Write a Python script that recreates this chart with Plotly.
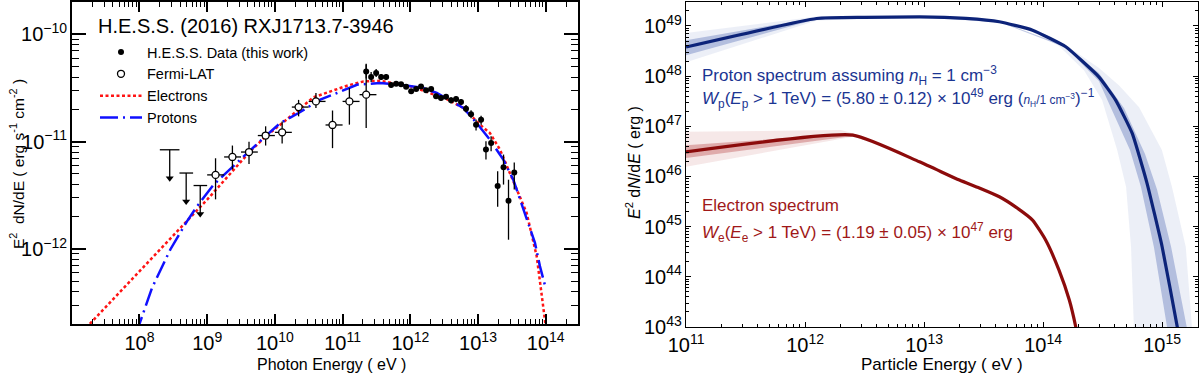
import numpy as np
import plotly.graph_objects as go

# ---------------------------------------------------------------------------
# left panel : gamma-ray SED
# ---------------------------------------------------------------------------
hess_energy = [2.23e11, 2.64e11, 3.13e11, 3.71e11, 4.40e11, 5.21e11, 6.18e11, 7.31e11,
               8.67e11, 1.03e12, 1.22e12, 1.44e12, 1.71e12, 2.03e12, 2.40e12, 2.84e12,
               3.37e12, 4.00e12, 4.74e12, 5.61e12, 6.65e12, 7.89e12, 9.35e12, 1.11e13,
               1.31e13, 1.56e13, 1.95e13, 2.38e13, 2.82e13, 3.43e13]
hess_flux = [4.51e-11, 4.00e-11, 4.36e-11, 4.00e-11, 4.00e-11, 3.37e-11, 3.46e-11, 3.43e-11,
             3.25e-11, 2.95e-11, 3.09e-11, 3.27e-11, 3.01e-11, 3.09e-11, 2.65e-11, 2.55e-11,
             2.62e-11, 2.43e-11, 2.49e-11, 2.34e-11, 2.03e-11, 1.80e-11, 1.44e-11, 1.60e-11,
             8.43e-12, 9.72e-12, 3.86e-12, 5.77e-12, 2.82e-12, 5.15e-12]
hess_err_hi = [7.3e-12, 4.5e-12, 3.9e-12, 2.6e-12, 2.6e-12, 1.9e-12, 1.5e-12, 1.5e-12,
               1.4e-12, 1.3e-12, 1.3e-12, 1.4e-12, 1.3e-12, 1.3e-12, 1.4e-12, 1.4e-12,
               1.4e-12, 1.6e-12, 1.6e-12, 1.5e-12, 1.6e-12, 1.6e-12, 1.7e-12, 1.4e-12,
               1.64e-12, 1.48e-12, 1.44e-12, 1.81e-12, 1.60e-12, 1.23e-12]
hess_err_lo = [6.3e-12, 4.1e-12, 3.6e-12, 2.5e-12, 2.5e-12, 1.8e-12, 1.5e-12, 1.5e-12,
               1.4e-12, 1.3e-12, 1.3e-12, 1.4e-12, 1.3e-12, 1.3e-12, 1.4e-12, 1.4e-12,
               1.4e-12, 1.6e-12, 1.6e-12, 1.5e-12, 1.5e-12, 1.5e-12, 1.7e-12, 1.6e-12,
               1.63e-12, 1.60e-12, 1.39e-12, 1.79e-12, 1.60e-12, 1.57e-12]

fermi_energy = [1.33e9, 2.36e9, 4.15e9, 7.3e9, 1.28e10, 2.24e10, 4.04e10, 7.1e10, 1.26e11, 2.23e11]
fermi_e_min = [1.0e9, 1.78e9, 3.16e9, 5.6e9, 1.0e10, 1.78e10, 3.16e10, 5.6e10, 1.0e11, 1.78e11]
fermi_e_max = [1.78e9, 3.16e9, 5.6e9, 1.0e10, 1.78e10, 3.16e10, 5.6e10, 1.0e11, 1.78e11, 3.16e11]
fermi_flux = [4.9e-12, 7.2e-12, 8.0e-12, 1.14e-11, 1.22e-11, 2.10e-11, 2.37e-11, 1.43e-11, 2.37e-11, 2.74e-11]
fermi_err_hi = [2.1e-12, 2.0e-12, 2.0e-12, 2.5e-12, 3.2e-12, 3.5e-12, 4.7e-12, 5.2e-12, 7.9e-12, 2.58e-11]
fermi_err_lo = [2.0e-12, 1.7e-12, 1.8e-12, 2.2e-12, 2.6e-12, 3.8e-12, 3.1e-12, 5.6e-12, 9.3e-12, 1.40e-11]

# Fermi-LAT upper limits
ul_energy = [2.8e8, 4.9e8, 7.9e8]
ul_e_min = [2.0e8, 3.9e8, 6.3e8]
ul_e_max = [3.9e8, 6.2e8, 1.0e9]
ul_flux = [8.4e-12, 5.1e-12, 3.9e-12]

# leptonic (IC) model
electron_sed_energy = [1.26e7, 1.89e7, 1.0e8, 1.0e9, 4.15e9, 7.21e9, 1.29e10, 3.72e10, 1.16e11,
                       2.03e11, 3.59e11, 1.11e12, 3.45e12, 6.07e12, 1.07e13, 1.50e13, 2.11e13,
                       3.32e13, 5.22e13, 7.35e13, 9.73e13, 1.05e14]
electron_sed_flux = [1.55e-13, 2.03e-13, 6.18e-13, 2.88e-12, 7.91e-12, 1.11e-11, 1.49e-11, 2.59e-11,
                     3.32e-11, 3.64e-11, 3.69e-11, 3.23e-11, 2.49e-11, 2.06e-11, 1.44e-11, 1.20e-11,
                     8.43e-12, 4.34e-12, 2.17e-12, 8.57e-13, 2.03e-13, 1.50e-13]

# hadronic (pi0) model
proton_sed_energy = [9.3e7, 1.0e8, 1.54e8, 2.86e8, 5.06e8, 7.10e8, 1.25e9, 2.20e9, 3.09e9, 7.21e9,
                     1.20e10, 2.24e10, 4.68e10, 8.24e10, 1.63e11, 3.59e11, 7.08e11, 1.56e12,
                     2.46e12, 6.07e12, 9.57e12, 1.50e13, 2.36e13, 3.31e13, 5.52e13, 6.93e13,
                     8.20e13, 9.73e13, 1.0e14]
proton_sed_flux = [1.6e-13, 2.0e-13, 4.36e-13, 9.89e-13, 1.82e-12, 2.50e-12, 3.98e-12, 5.50e-12,
                   6.81e-12, 1.12e-11, 1.49e-11, 1.85e-11, 2.46e-11, 2.84e-11, 3.39e-11, 3.52e-11,
                   3.39e-11, 3.16e-11, 2.84e-11, 2.06e-11, 1.49e-11, 1.04e-11, 6.81e-12, 4.44e-12,
                   1.75e-12, 1.14e-12, 6.92e-13, 4.51e-13, 4.3e-13]

# ---------------------------------------------------------------------------
# right panel : particle spectra
# ---------------------------------------------------------------------------
proton_energy = [1.0e11, 1.25e12, 3.16e12, 9.14e12, 2.24e13, 4.29e13, 8.15e13, 1.55e14, 2.94e14,
                 4.07e14, 5.61e14, 7.46e14, 1.0e15, 1.34e15, 1.45e15]
proton_e2n = [3.8e48, 1.41e49, 1.48e49, 1.52e49, 1.41e49, 1.21e49, 8.24e48, 3.84e48, 9.68e47,
              3.33e47, 7.23e46, 7.40e45, 3.98e44, 1.01e43, 3.2e42]

# spread of the sampled proton spectra (outer / inner envelope)
proton_band_hi_e = [1.0e11, 1.25e12, 9.1e12, 4.3e13, 9.3e13, 1.55e14, 2.95e14, 4.35e14, 6.4e14,
                    9.95e14, 1.21e15, 1.58e15, 1.78e15, 1.93e15]
proton_band_hi_n = [7.2e48, 1.55e49, 1.57e49, 1.26e49, 7.8e48, 4.15e48, 1.45e48, 6.5e47, 2.4e47,
                    3.36e46, 6.15e45, 3.93e44, 1.0e43, 2.2e42]
proton_band_lo_e = [1.0e11, 1.25e12, 9.1e12, 4.3e13, 8.15e13, 1.36e14, 2.21e14, 3.13e14, 4.19e14,
                    4.98e14, 5.48e14, 5.81e14, 5.92e14]
proton_band_lo_n = [1.90e48, 1.28e49, 1.47e49, 1.17e49, 7.7e48, 4.0e48, 1.3e48, 3.33e47, 3.36e46,
                    6.15e45, 3.93e44, 1.0e43, 2.2e42]
proton_core_hi_e = [1.0e11, 1.25e12, 9.1e12, 4.3e13, 1.55e14, 2.94e14, 4.79e14, 7.18e14,
                    9.06e14, 1.19e15, 1.61e15, 1.74e15]
proton_core_hi_n = [5.2e48, 1.46e49, 1.54e49, 1.23e49, 4.0e48, 1.15e48, 2.3e47, 2.8e46,
                    5.5e45, 3.93e44, 1.0e43, 2.2e42]
proton_core_lo_e = [1.0e11, 1.25e12, 9.1e12, 4.3e13, 1.55e14, 2.94e14, 3.51e14, 5.37e14,
                    6.64e14, 8.53e14, 1.10e15, 1.19e15]
proton_core_lo_n = [2.62e48, 1.36e49, 1.50e49, 1.19e49, 3.7e48, 8.0e47, 3.33e47, 3.36e46,
                    6.15e45, 3.93e44, 1.0e43, 2.2e42]

electron_energy = [1.0e11, 2.52e12, 9.14e12, 1.98e13, 2.91e13, 4.29e13, 5.9e13, 8.15e13, 1.05e14,
                   1.36e14, 1.66e14, 1.88e14, 1.97e14]
electron_e2n = [3.10e46, 6.68e46, 1.96e46, 8.47e45, 5.9e45, 3.94e45, 2.45e45, 1.35e45, 5.41e44,
                1.36e44, 3.45e43, 1.01e43, 5.5e42]

electron_band_hi_e = [1.0e11, 2.0e12, 2.52e12, 3.16e12]
electron_band_hi_n = [7.8e46, 8.4e46, 7.3e46, 5.5e46]
electron_band_lo_e = [1.0e11, 1.0e12, 2.52e12, 3.16e12]
electron_band_lo_n = [1.56e46, 4.2e46, 6.2e46, 5.3e46]
electron_core_hi_e = [1.0e11, 2.52e12, 3.16e12]
electron_core_hi_n = [4.2e46, 7.2e46, 5.5e46]
electron_core_lo_e = [1.0e11, 2.52e12, 3.16e12]
electron_core_lo_n = [2.33e46, 6.4e46, 5.3e46]

FONT = "Liberation Sans"
NAVY = "#0c2379"
NAVY_TXT = "#1b3592"
DARKRED = "#8c0b0b"
RED_TXT = "#a01818"


def band(e_hi, n_hi, e_lo, n_lo, color, axes):
    # closed polygon: upper edge out, lower edge back
    return go.Scatter(x=list(e_hi) + list(e_lo)[::-1], y=list(n_hi) + list(n_lo)[::-1],
                      mode="lines", fill="toself", fillcolor=color, line=dict(width=0),
                      hoverinfo="skip", showlegend=False, xaxis=axes[0], yaxis=axes[1])


fig = go.Figure()

# ---- left panel traces
fig.add_trace(go.Scatter(
    x=electron_sed_energy, y=electron_sed_flux, mode="lines", name="Electrons", legendrank=3,
    line=dict(color="#ff1414", width=2.5, dash="3px,2.5px")))
fig.add_trace(go.Scatter(
    x=proton_sed_energy, y=proton_sed_flux, mode="lines", name="Protons", legendrank=4,
    line=dict(color="#1010ff", width=2.5, dash="18px,5px,2px,5px")))

fig.add_trace(go.Scatter(
    x=fermi_energy, y=fermi_flux, mode="markers", name="Fermi-LAT", legendrank=2,
    marker=dict(symbol="circle", size=7, color="white", line=dict(color="black", width=1.3)),
    error_x=dict(type="data", symmetric=False,
                 array=np.subtract(fermi_e_max, fermi_energy),
                 arrayminus=np.subtract(fermi_energy, fermi_e_min),
                 color="black", thickness=1.3, width=0),
    error_y=dict(type="data", symmetric=False, array=fermi_err_hi, arrayminus=fermi_err_lo,
                 color="black", thickness=1.3, width=0)))

# upper limits: bin bar + shaft + arrow head
drop = 10 ** -0.265
ul_flux = np.array(ul_flux)
fig.add_trace(go.Scatter(
    x=ul_energy, y=ul_flux, mode="markers", marker=dict(size=1, color="rgba(0,0,0,0)"),
    showlegend=False, hoverinfo="skip",
    error_x=dict(type="data", symmetric=False,
                 array=np.subtract(ul_e_max, ul_energy),
                 arrayminus=np.subtract(ul_energy, ul_e_min),
                 color="black", thickness=1.3, width=0),
    error_y=dict(type="data", symmetric=False, array=[0] * len(ul_energy),
                 arrayminus=ul_flux * (1 - drop), color="black", thickness=1.3, width=0)))
fig.add_trace(go.Scatter(
    x=ul_energy, y=ul_flux * drop, mode="markers", showlegend=False, hoverinfo="skip",
    marker=dict(symbol="triangle-down", size=7, color="black")))

fig.add_trace(go.Scatter(
    x=hess_energy, y=hess_flux, mode="markers", name="H.E.S.S. Data (this work)", legendrank=1,
    marker=dict(symbol="circle", size=6, color="black"),
    error_y=dict(type="data", symmetric=False, array=hess_err_hi, arrayminus=hess_err_lo,
                 color="black", thickness=1.3, width=0)))

# ---- right panel traces
ax2 = ("x2", "y2")
fig.add_trace(band(proton_band_hi_e, proton_band_hi_n, proton_band_lo_e, proton_band_lo_n,
                   "rgba(45,75,165,0.09)", ax2))
fig.add_trace(band(proton_core_hi_e, proton_core_hi_n, proton_core_lo_e, proton_core_lo_n,
                   "rgba(45,75,165,0.30)", ax2))
fig.add_trace(band(electron_band_hi_e, electron_band_hi_n, electron_band_lo_e, electron_band_lo_n,
                   "rgba(170,30,30,0.10)", ax2))
fig.add_trace(band(electron_core_hi_e, electron_core_hi_n, electron_core_lo_e, electron_core_lo_n,
                   "rgba(170,30,30,0.30)", ax2))
fig.add_trace(go.Scatter(x=proton_energy, y=proton_e2n, mode="lines", showlegend=False,
                         line=dict(color=NAVY, width=3.2, shape="spline", smoothing=0.4),
                         xaxis="x2", yaxis="y2"))
fig.add_trace(go.Scatter(x=electron_energy, y=electron_e2n, mode="lines", showlegend=False,
                         line=dict(color=DARKRED, width=3.2, shape="spline", smoothing=0.5),
                         xaxis="x2", yaxis="y2"))


def log_axis(rng, domain, anchor, ticklen, minorlen, width):
    return dict(type="log", range=rng, domain=domain, anchor=anchor, dtick=1,
                exponentformat="power", showgrid=False, zeroline=False, automargin=False,
                showline=True, linecolor="black", linewidth=width, mirror="ticks",
                ticks="inside", ticklen=ticklen, tickwidth=width, tickcolor="black",
                minor=dict(ticks="inside", ticklen=minorlen, tickwidth=1, tickcolor="black",
                           showgrid=False),
                tickfont=dict(family=FONT, size=16, color="black"))


xa = log_axis([7.004, 14.477], [0.06, 0.4817], "y", 10, 5, 1.5)
ya = log_axis([np.log10(2e-13), np.log10(2e-10)], [0.1314, 0.9946], "x", 14, 7, 1.5)
xb = log_axis([11, 15.301], [0.5717, 0.9983], "y2", 5, 3, 1.1)
yb = log_axis([43, 49.477], [0.1233, 0.9946], "x2", 5, 3, 1.1)
xa["ticklabelstandoff"] = 1
xb["ticklabelstandoff"] = 1

ann = []


def text(s, x, y, size=16, color="black", angle=0, anchor="center"):
    ann.append(dict(text=s, x=x / 1200, y=1 - y / 373, xref="paper", yref="paper",
                    xanchor=anchor, yanchor="middle", showarrow=False, textangle=angle,
                    font=dict(family=FONT, size=size, color=color)))


text("H.E.S.S. (2016) RXJ1713.7-3946", 96, 26, size=20, anchor="left")
text("Photon Energy ( eV )", 331, 364, size=16)
text("E<sup>2</sup>  dN/dE ( erg s<sup>-1</sup> cm<sup>-2</sup> )", 17, 164, size=15.5, angle=-90)
text("Particle Energy ( eV )", 942, 364, size=17)
text("<i>E</i><sup>2</sup> d<i>N</i>/d<i>E</i> ( erg )", 633, 163, size=16, angle=-90)

text("Proton spectrum assuming <i>n</i><sub>H</sub> = 1 cm<sup>\u22123</sup>",
     700, 75, size=17, color=NAVY_TXT, anchor="left")
text("<i>W</i><sub>p</sub>(<i>E</i><sub>p</sub> > 1 TeV) = (5.80 \u00b1 0.12) \u00d7 10<sup>49</sup> erg "
     "(<span style='font-size:12px'><i>n</i><sub>H</sub>/1 cm<sup>\u22123</sup></span>)<sup>\u22121</sup>",
     700, 99, size=17, color=NAVY_TXT, anchor="left")
text("Electron spectrum", 700, 205, size=17, color=RED_TXT, anchor="left")
text("<i>W</i><sub>e</sub>(<i>E</i><sub>e</sub> > 1 TeV) = (1.19 \u00b1 0.05) \u00d7 10<sup>47</sup> erg",
     700, 232, size=17, color=RED_TXT, anchor="left")

fig.update_layout(
    template="none",
    width=1200, height=373,
    margin=dict(l=0, r=0, t=0, b=0),
    paper_bgcolor="white", plot_bgcolor="white",
    font=dict(family=FONT, color="black"),
    xaxis=xa, yaxis=ya, xaxis2=xb, yaxis2=yb,
    annotations=ann,
    showlegend=True,
    legend=dict(x=95 / 1200, y=1 - 36 / 373, xanchor="left", yanchor="top",
                bgcolor="rgba(0,0,0,0)", font=dict(family=FONT, size=14.5, color="black"),
                tracegroupgap=0, itemwidth=42),
)

# the page's default 8px body margin would push the 1200x373 figure off the window
fig.write_html("out.html", config={"displayModeBar": False},
               post_script="document.body.style.margin = '0px';")
